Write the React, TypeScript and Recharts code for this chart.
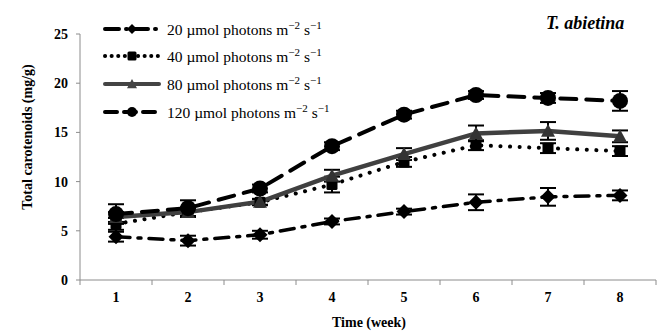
import { LineChart, Line, XAxis, YAxis, ErrorBar } from "recharts";

const FONT = "'Liberation Serif', 'Times New Roman', serif";

const weeks = [1, 2, 3, 4, 5, 6, 7, 8];
const weekTicks = [0.5, 1, 1.5, 2, 2.5, 3, 3.5, 4, 4.5, 5, 5.5, 6, 6.5, 7, 7.5, 8, 8.5];
const yTicks = [0, 5, 10, 15, 20, 25];

const s20 = [4.4, 4.0, 4.6, 5.95, 6.95, 7.9, 8.45, 8.6];
const s40 = [5.7, 6.9, 7.9, 9.7, 12.0, 13.7, 13.4, 13.1];
const s80 = [6.4, 6.9, 7.95, 10.6, 12.8, 14.9, 15.15, 14.6];
const s120 = [6.7, 7.3, 9.3, 13.6, 16.8, 18.8, 18.5, 18.2];

const e20 = [0.5, 0.5, 0.4, 0.3, 0.3, 0.8, 0.9, 0.5];
const e40 = [0.6, 0.4, 0.3, 0.8, 0.5, 0.5, 0.5, 0.5];
const e80 = [0.5, 0.5, 0.3, 0.6, 0.6, 0.8, 0.9, 0.6];
const e120 = [1.0, 0.8, 0.4, 0.4, 0.4, 0.4, 0.5, 1.0];

const labels = ["20", "40", "80", "120"];

const data = weeks.map((w, i) => ({
  week: w,
  s20: s20[i],
  s40: s40[i],
  s80: s80[i],
  s120: s120[i],
  e20: e20[i],
  e40: e40[i],
  e80: e80[i],
  e120: e120[i],
}));

function Diamond({ cx, cy, size = 7.5, fill = "#000" }: any) {
  if (cx == null || cy == null) return null;
  return <path d={`M${cx},${cy - size}L${cx + size},${cy}L${cx},${cy + size}L${cx - size},${cy}Z`} fill={fill} />;
}
function Square({ cx, cy, size = 5.5, fill = "#000" }: any) {
  if (cx == null || cy == null) return null;
  return <rect x={cx - size} y={cy - size} width={size * 2} height={size * 2} rx={1.5} fill={fill} />;
}
function Triangle({ cx, cy, size = 7, fill = "#333" }: any) {
  if (cx == null || cy == null) return null;
  return <path d={`M${cx},${cy - size}L${cx + size},${cy + size * 0.85}L${cx - size},${cy + size * 0.85}Z`} fill={fill} />;
}
function Circle({ cx, cy, size = 8, fill = "#000" }: any) {
  if (cx == null || cy == null) return null;
  return <circle cx={cx} cy={cy} r={size} fill={fill} />;
}

function WeekTick(props: any) {
  const { x, y, payload } = props;
  const v = payload.value;
  if (Number.isInteger(v)) {
    return (
      <text x={x} y={y + 22} textAnchor="middle" fontFamily={FONT} fontWeight="bold" fontSize={14} fill="#000">
        {v}
      </text>
    );
  }
  return <line x1={x} x2={x} y1={y} y2={y + 5} stroke="#8c8c8c" strokeWidth={1} />;
}

const samples = [
  { dash: "14 7 1 7", color: "#000", width: 4, marker: (cx: number, cy: number) => <Diamond cx={cx} cy={cy} size={5} /> },
  { dash: "0.1 6.5", color: "#000", width: 4, marker: (cx: number, cy: number) => <Square cx={cx} cy={cy} size={4.5} /> },
  { dash: "", color: "#444", width: 4, marker: (cx: number, cy: number) => <Triangle cx={cx} cy={cy} size={5} fill="#444" /> },
  { dash: "12 7", color: "#000", width: 4, marker: (cx: number, cy: number) => <Circle cx={cx} cy={cy} size={5} /> },
];

function LegendBox() {
  return (
    <div
      style={{
        position: "absolute",
        left: 103,
        top: 15,
        fontFamily: FONT,
        fontSize: 15.5,
        color: "#000",
        whiteSpace: "nowrap",
      }}
    >
      {labels.map((l, i) => (
        <div key={l} style={{ display: "flex", alignItems: "center", height: 27.6 }}>
          <svg width={60} height={16} style={{ marginRight: 4 }}>
            <line
              x1={2}
              x2={56}
              y1={8}
              y2={8}
              stroke={samples[i].color}
              strokeWidth={samples[i].width}
              strokeDasharray={samples[i].dash || undefined}
              strokeLinecap="round"
            />
            {samples[i].marker(29, 8)}
          </svg>
          <span>
            {l} µmol photons m<sup style={{ fontSize: 11 }}>−2</sup> s<sup style={{ fontSize: 11 }}>−1</sup>
          </span>
        </div>
      ))}
    </div>
  );
}

export default function App() {
  return (
    <div style={{ position: "absolute", left: 0, top: 0, width: 657, height: 334, background: "#fff" }}>
      <LineChart width={657} height={334} data={data} margin={{ top: 34, right: 1, left: 30, bottom: 14 }}>
        <XAxis
          dataKey="week"
          type="number"
          domain={[0.5, 8.5]}
          ticks={weekTicks}
          interval={0}
          tickLine={false}
          tickSize={0}
          tickMargin={0}
          tick={<WeekTick />}
          axisLine={{ stroke: "#8c8c8c" }}
          height={40}
          label={{
            content: () => (
              <text x={369} y={327} textAnchor="middle" fontFamily={FONT} fontWeight="bold" fontSize={14} fill="#000">
                Time (week)
              </text>
            ),
          }}
        />
        <YAxis
          domain={[0, 25]}
          ticks={yTicks}
          width={50}
          axisLine={{ stroke: "#8c8c8c" }}
          tickLine={{ stroke: "#8c8c8c" }}
          tickSize={4}
          tickMargin={8}
          tick={{ fontFamily: FONT, fontWeight: "bold", fontSize: 14, fill: "#000" }}
          label={{
            content: () => (
              <text
                transform="translate(27,137) rotate(-90)"
                textAnchor="middle"
                dominantBaseline="central"
                fontFamily={FONT}
                fontWeight="bold"
                fontSize={14}
                fill="#000"
              >
                Total carotenoids (mg/g)
              </text>
            ),
          }}
        />
        <Line
          dataKey="s20"
          stroke="#000"
          strokeWidth={3.5}
          strokeDasharray="14 8 3 8"
          strokeLinecap="round"
          dot={(p: any) => <Diamond key={`d20-${p.index}`} cx={p.cx} cy={p.cy} />}
          activeDot={false}
          isAnimationActive={false}
        >
          <ErrorBar dataKey="e20" width={8} stroke="#000" strokeWidth={2} direction="y" />
        </Line>
        <Line
          dataKey="s40"
          stroke="#000"
          strokeWidth={4}
          strokeDasharray="0.1 9.5"
          strokeLinecap="round"
          dot={(p: any) => <Square key={`d40-${p.index}`} cx={p.cx} cy={p.cy} />}
          activeDot={false}
          isAnimationActive={false}
        >
          <ErrorBar dataKey="e40" width={8} stroke="#000" strokeWidth={2} direction="y" />
        </Line>
        <Line
          dataKey="s80"
          stroke="#404040"
          strokeWidth={4.5}
          dot={(p: any) => <Triangle key={`d80-${p.index}`} cx={p.cx} cy={p.cy} />}
          activeDot={false}
          isAnimationActive={false}
        >
          <ErrorBar dataKey="e80" width={8} stroke="#000" strokeWidth={2} direction="y" />
        </Line>
        <Line
          dataKey="s120"
          stroke="#000"
          strokeWidth={4}
          strokeDasharray="16 10"
          strokeLinecap="round"
          dot={(p: any) => <Circle key={`d120-${p.index}`} cx={p.cx} cy={p.cy} />}
          activeDot={false}
          isAnimationActive={false}
        >
          <ErrorBar dataKey="e120" width={8} stroke="#000" strokeWidth={2} direction="y" />
        </Line>
      </LineChart>
      <LegendBox />
      <div
        style={{
          position: "absolute",
          left: 546,
          top: 13,
          fontFamily: FONT,
          fontWeight: "bold",
          fontStyle: "italic",
          fontSize: 18,
        }}
      >
        T. abietina
      </div>
    </div>
  );
}
